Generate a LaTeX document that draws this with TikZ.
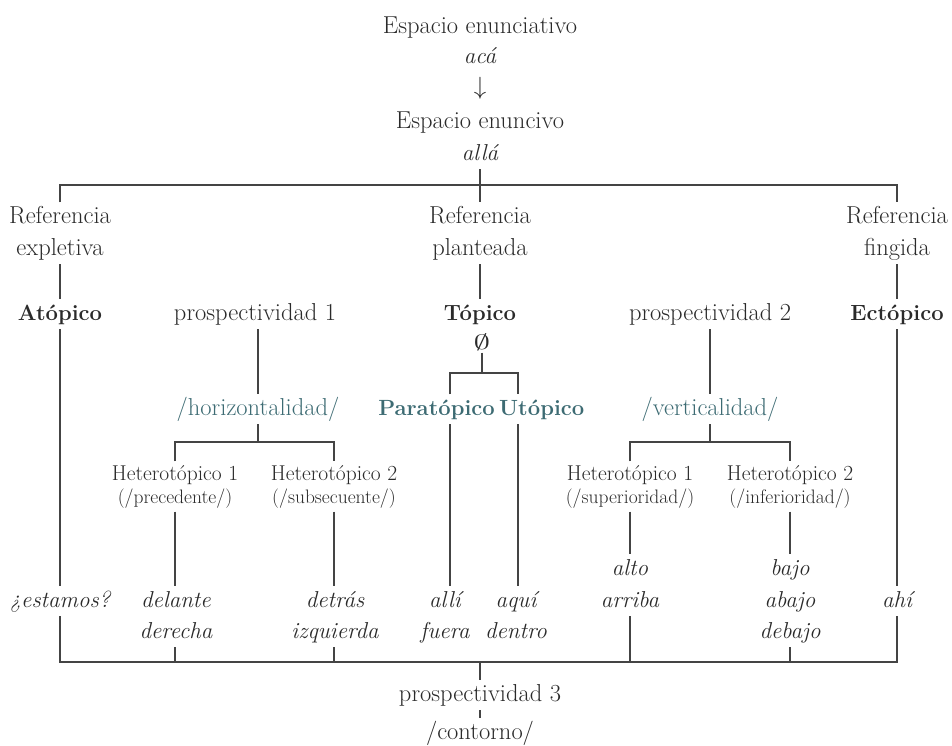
\documentclass[tikz,border=0pt]{standalone}
\usetikzlibrary{calc}
\definecolor{ink}{HTML}{2A2A2A}
\definecolor{wire}{HTML}{444444}
\definecolor{tealink}{HTML}{3D6B73}
\tikzset{
  txt/.style={anchor=base, inner xsep=0pt, inner ysep=4pt, text height=16.5pt, text depth=5pt,
              font=\fontsize{24.5}{29}\selectfont, text=ink},
  itx/.style={txt, font=\fontsize{23}{27}\selectfont\itshape},
  boldx/.style={txt, font=\fontsize{22}{26}\selectfont\bfseries},
  smallx/.style={txt, text height=14.5pt, text depth=4.5pt, font=\fontsize{21.5}{25}\selectfont},
  smallp/.style={smallx, font=\fontsize{19.5}{23}\selectfont},
  hl/.style={text=tealink},
  conn/.style={draw=wire, line width=1.2pt},
}
\begin{document}
\begin{tikzpicture}[x=1pt,y=-1pt]
\useasboundingbox (0,0) rectangle (952,745);

% enunciation spaces
\node[txt] (esp1) at (480,33) {Espacio enunciativo};
\node[itx] (aca) at (480,63) {acá};
\node[inner sep=0pt, font=\fontsize{26}{28}\selectfont, text=ink] (arr) at (480,88) {$\downarrow$};
\node[txt] (esp2) at (480,128) {Espacio enuncivo};
\node[itx] (alla) at (480,160) {allá};

% three kinds of reference
\node[txt] (rexA) at (60,223) {Referencia};
\node[txt] (rexB) at (60,255) {expletiva};
\node[txt] (rplA) at (480,223) {Referencia};
\node[txt] (rplB) at (480,255) {planteada};
\node[txt] (rfiA) at (897,223) {Referencia};
\node[txt] (rfiB) at (897,255) {fingida};

\node[boldx] (atop) at (60,320) {Atópico};
\node[txt] (pros1) at (255,320) {prospectividad 1};
\node[boldx] (topi) at (480,320) {Tópico};
\node[txt] (pros2) at (710,320) {prospectividad 2};
\node[boldx] (ecto) at (897,320) {Ectópico};
\node[inner sep=2pt, font=\fontsize{21}{24}\selectfont, text=ink] (vacio) at (482,342) {\scalebox{1.6}[1]{$\emptyset$}};

\node[txt, hl] (horiz) at (258,415) {/horizontalidad/};
\node[boldx, hl, anchor=base east] (para) at (495,415) {Paratópico};
\node[boldx, hl, anchor=base west] (uto) at (499,415) {Utópico};
\node[txt, hl] (vert) at (710,415) {/verticalidad/};

% heterotopic branches
\node[smallx] (h1) at (175,480) {Heterotópico 1};
\node[smallp] (h1b) at (175,503) {(/precedente/)};
\node[smallx] (h2) at (334,480) {Heterotópico 2};
\node[smallp] (h2b) at (334,503) {(/subsecuente/)};
\node[smallx] (h3) at (630,480) {Heterotópico 1};
\node[smallp] (h3b) at (630,503) {(/superioridad/)};
\node[smallx] (h4) at (790,480) {Heterotópico 2};
\node[smallp] (h4b) at (790,503) {(/inferioridad/)};

% deictic words
\node[itx] (estamos) at (60,607) {¿estamos?};
\node[itx] (delante) at (176,607) {delante};
\node[itx] (derecha) at (176,638) {derecha};
\node[itx] (detras) at (335,607) {detrás};
\node[itx] (izq) at (335,638) {izquierda};
\node[itx] (alli) at (445,607) {allí};
\node[itx] (fuera) at (445,638) {fuera};
\node[itx] (aqui) at (516,607) {aquí};
\node[itx] (dentro) at (516,638) {dentro};
\node[itx] (alto) at (630,575) {alto};
\node[itx] (arriba) at (630,607) {arriba};
\node[itx] (bajo) at (790,575) {bajo};
\node[itx] (abajo) at (790,607) {abajo};
\node[itx] (debajo) at (790,638) {debajo};
\node[itx] (ahi) at (897,607) {ahí};

\node[txt] (p3) at (480,701) {prospectividad 3};
\node[txt] (cont) at (480,739) {/contorno/};

% junction points
\coordinate (busTL) at (60,185);
\coordinate (busTR) at (897,185);
\coordinate (fkH) at (258,442);
\coordinate (fkV) at (710,442);
\coordinate (fkP) at (482,373);
\coordinate (fkPL) at (450,373);
\coordinate (fkPR) at (518,373);
\coordinate (busBL) at (60,662);
\coordinate (busBR) at (897,662);

% upper tree
\draw[conn] (rexA.north) -- (busTL) -- (busTR) -- (rfiA.north);
\draw[conn] (alla.south) -- (rplA.north);
\draw[conn] (rexB.south) -- (atop.north);
\draw[conn] (rplB.south) -- (topi.north);
\draw[conn] (rfiB.south) -- (ecto.north);
\draw[conn] (atop.south) -- (estamos.north);
\draw[conn] (ecto.south) -- (ahi.north);
\draw[conn] (pros1.south -| horiz.north) -- (horiz.north);
\draw[conn] (pros2.south) -- (vert.north);

% horizontal axis
\draw[conn] (horiz.south) -- (fkH);
\draw[conn] (h1.north) |- (fkH) -| (h2.north);
\draw[conn] (h1b.south) -- (delante.north -| h1b.south);
\draw[conn] (h2b.south) -- (detras.north -| h2b.south);

% vertical axis
\draw[conn] (vert.south) -- (fkV);
\draw[conn] (h3.north) |- (fkV) -| (h4.north);
\draw[conn] (h3b.south) -- (alto.north -| h3b.south);
\draw[conn] (h4b.south) -- (bajo.north);

% topic split
\draw[conn] (vacio.south) -- (fkP);
\draw[conn] (para.north -| fkPL) -- (fkPL) -- (fkPR) -- (uto.north -| fkPR);
\draw[conn] (para.south -| fkPL) -- (alli.north -| fkPL);
\draw[conn] (uto.south -| fkPR) -- (aqui.north -| fkPR);

% lower bus
\draw[conn] (estamos.south) -- (busBL) -- (busBR) -- (ahi.south);
\draw[conn] (derecha.south -| h1b.south) -- (busBL -| h1b.south);
\draw[conn] (izq.south -| h2b.south) -- (busBL -| h2b.south);
\draw[conn] (arriba.south -| h3b.south) -- (busBL -| h3b.south);
\draw[conn] (debajo.south) -- (busBL -| debajo.south);
\draw[conn] (busBL -| p3.north) -- (p3.north);
\draw[conn] (p3.south) -- (cont.north);
\end{tikzpicture}
\end{document}
